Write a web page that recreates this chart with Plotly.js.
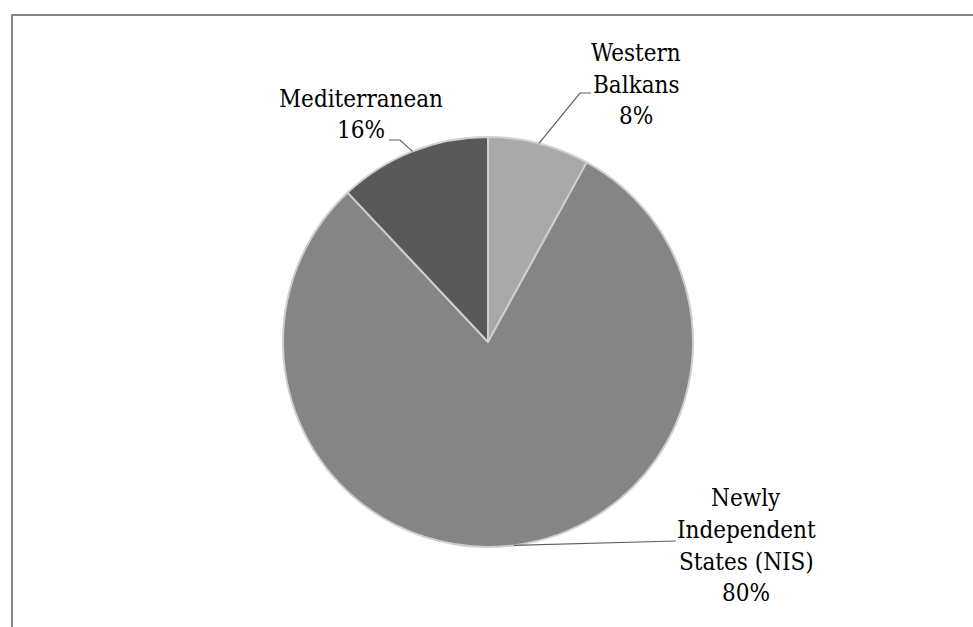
<!DOCTYPE html>
<html>
<head>
<meta charset="utf-8">
<script src="https://cdn.plot.ly/plotly-3.0.1.min.js"></script>
<style>html,body{margin:0;padding:0;background:#fff;}#chart{width:973px;height:627px;}</style>
</head>
<body>
<div id="chart"></div>
<script>
// Data
const regions = ["Western Balkans", "Newly Independent States (NIS)", "Mediterranean"];
const shares = [8, 80, 12];            // slice sizes as drawn
const shareLabels = ["8%", "80%", "16%"]; // percentages as printed on the chart
const labelLines = [["Western", "Balkans"], ["Newly", "Independent", "States (NIS)"], ["Mediterranean"]];
const sliceColors = ["#a9a9a9", "#858585", "#595959"];

// Layout geometry (pixels)
const W = 973, H = 627;
const cx = 488, cy = 342, R = 205;
const fontSize = 24, lineGap = 31.5;
const labelPos = [
  {x: 636, y0: 62, elbow: [580, 93], end: [591, 93]},
  {x: 746, y0: 507, elbow: [676, 541], end: [676, 541]},
  {x: 361, y0: 107, elbow: [400, 140], end: [389, 140]}
];
const serif = "DejaVu Serif Condensed";

const px = x => x / W;
const py = y => 1 - y / H;

const trace = {
  type: "pie",
  labels: regions,
  values: shares,
  sort: false,
  direction: "clockwise",
  rotation: 0,
  textinfo: "none",
  hoverinfo: "label+value",
  marker: {colors: sliceColors, line: {color: "#cfcfcf", width: 2}},
  domain: {x: [px(cx - R), px(cx + R)], y: [py(cy + R), py(cy - R)]},
  showlegend: false
};

const total = shares.reduce((a, b) => a + b, 0);
let cum = 0;
const anchors = shares.map(v => {
  const mid = (cum + v / 2) / total * 2 * Math.PI;
  cum += v;
  return [cx + R * Math.sin(mid), cy - R * Math.cos(mid)];
});

const annotations = [];
const shapes = [];
regions.forEach((r, i) => {
  const lines = labelLines[i].concat([shareLabels[i]]);
  const p = labelPos[i];
  lines.forEach((t, k) => {
    annotations.push({
      xref: "paper", yref: "paper",
      x: px(p.x), y: py(p.y0 + k * lineGap - 8.5),
      xanchor: "center", yanchor: "middle",
      text: t, showarrow: false,
      font: {family: serif, size: fontSize, color: "#000"}
    });
  });
  const a = anchors[i];
  shapes.push({
    type: "path", xref: "paper", yref: "paper",
    path: `M ${px(a[0])} ${py(a[1])} L ${px(p.elbow[0])} ${py(p.elbow[1])} L ${px(p.end[0])} ${py(p.end[1])}`,
    line: {color: "#5f5f5f", width: 1.2}
  });
});

shapes.push({
  type: "rect", xref: "paper", yref: "paper",
  x0: px(12), x1: 1.05, y0: -0.05, y1: py(15),
  line: {color: "#878787", width: 2}, fillcolor: "rgba(0,0,0,0)"
});

const layout = {
  width: W, height: H,
  margin: {l: 0, r: 0, t: 0, b: 0},
  paper_bgcolor: "#fff",
  plot_bgcolor: "#fff",
  font: {family: serif},
  annotations: annotations,
  shapes: shapes
};

Plotly.newPlot("chart", [trace], layout, {displayModeBar: false, staticPlot: true});
</script>
</body>
</html>
